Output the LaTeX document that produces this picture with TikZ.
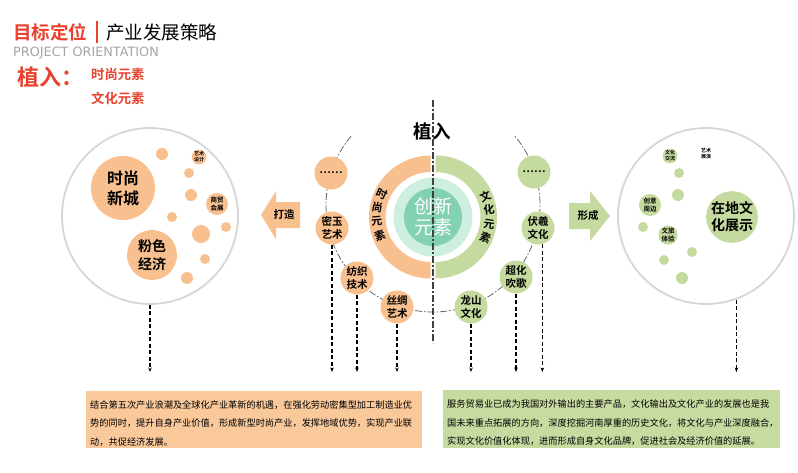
\documentclass[tikz,border=0pt]{standalone}
\usepackage{fontspec}
\setmainfont{Noto Sans CJK SC}[BoldFont={Noto Sans CJK SC Bold}]
\newfontfamily\projfont{DejaVu Sans}
\usetikzlibrary{arrows.meta}

\definecolor{hongse}{RGB}{232,65,45}
\definecolor{peach}{RGB}{248,191,143}
\definecolor{sage}{RGB}{197,218,158}
\definecolor{mintlt}{RGB}{206,238,224}
\definecolor{mint}{RGB}{130,209,179}
\definecolor{rimgray}{RGB}{214,214,214}
\definecolor{zigray}{RGB}{165,165,165}
\definecolor{lboxc}{RGB}{249,200,155}
\definecolor{rboxc}{RGB}{199,219,161}

\begin{document}
\begin{tikzpicture}[x=1pt, y=-1pt,
    bigbub/.style={circle, draw=rimgray, line width=1.8pt, inner sep=0pt, minimum size=176pt},
    pdot/.style={circle, fill=peach, inner sep=0pt, minimum size=#1},
    pdot/.default=10pt,
    gdot/.style={circle, fill=sage, inner sep=0pt, minimum size=#1},
    gdot/.default=10pt,
    pbub/.style={circle, fill=peach, inner sep=0pt, minimum size=33pt, align=center,
        font=\bfseries\fontsize{10.5}{12.5}\selectfont},
    gbub/.style={pbub, fill=sage},
    tinytxt/.style={align=center, font=\bfseries\fontsize{5}{6}\selectfont},
    smalltxt/.style={align=center, font=\bfseries\fontsize{6.5}{8}\selectfont},
    ringch/.style={inner sep=0pt, font=\bfseries\fontsize{11}{11}\selectfont},
    arrtxt/.style={inner sep=0pt, font=\bfseries\fontsize{10.5}{11}\selectfont},
    boxtxt/.style={anchor=north west, inner sep=0pt, text width=328pt, align=left,
        font=\fontsize{9.2}{18.5}\selectfont},
    dasharr/.style={dash pattern=on 4pt off 2.5pt, line width=1.1pt,
        -{Stealth[length=4.5pt,width=3.5pt]}},
    dotdash/.style={draw=black!60, line width=0.8pt, dash pattern=on 7pt off 2pt on 1.5pt off 2pt},
]
\useasboundingbox (0,0) rectangle (798,472);

%% title
\node[anchor=west, inner sep=0pt, text=hongse, font=\bfseries\fontsize{18.5}{20}\selectfont] (mbdw) at (13,32) {目标定位};
\draw[hongse, line width=2.5pt] (97,21) -- (97,43);
\node[anchor=west, inner sep=0pt, font=\fontsize{18.5}{20}\selectfont] (cyfz) at (106,32) {产业发展策略};
\node[anchor=west, inner sep=0pt, text=zigray, font=\projfont\fontsize{12.8}{13}\selectfont] (proj) at (13,53) {PROJECT ORIENTATION};
\node[anchor=west, inner sep=0pt, text=hongse, font=\bfseries\fontsize{22}{22}\selectfont] (zr) at (17,77) {植入：};
\node[anchor=west, inner sep=0pt, text=hongse, font=\bfseries\fontsize{13.3}{14}\selectfont] (ssys) at (91,74) {时尚元素};
\node[anchor=west, inner sep=0pt, text=hongse, font=\bfseries\fontsize{13.3}{14}\selectfont] (whys) at (91,98) {文化元素};

%% left bubble
%%   kw   (name)   (x, y)   {text}
\node[bigbub] (bigL) at (150,216) {};
\node[pdot=64pt, align=center, font=\bfseries\fontsize{16}{20}\selectfont] (ssxc) at (123,188) {时尚\\新城};
\node[pdot=50pt, align=center, font=\bfseries\fontsize{14}{18}\selectfont] (fsjj) at (152,255) {粉色\\经济};
\node[pdot=12pt] (lp1) at (162,154) {};
\node[pdot=14pt, tinytxt] (yssj) at (199,157) {艺术\\设计};
\node[pdot] (lp2) at (189,173) {};
\node[pdot=12pt] (lp3) at (191,195) {};
\node[pdot=22pt, smalltxt] (smhz) at (217,204) {商贸\\会展};
\node[pdot] (lp4) at (172,217) {};
\node[pdot=18pt] (lp5) at (201,234) {};
\node[pdot] (lp6) at (226,227) {};
\node[pdot] (lp7) at (205,259) {};
\node[pdot=12pt] (lp8) at (187,278) {};

%% right bubble
\node[bigbub] (bigR) at (706,216) {};
\node[gdot=47pt, align=center, font=\bfseries\fontsize{14}{17}\selectfont] (zdwh) at (732,217) {在地文\\化展示};
\node[gdot=13pt, tinytxt] (whjl) at (670,156) {文化\\交流};
\node[tinytxt, inner sep=0pt] (yszy) at (706,154) {艺术\\展演};
\node[gdot] (rp1) at (679,173) {};
\node[gdot=12pt] (rp2) at (678,195) {};
\node[gdot=22pt, smalltxt] (cyzb) at (650,205) {创意\\周边};
\node[gdot] (rp3) at (643,227) {};
\node[gdot=18pt, smalltxt] (wlty) at (668,235) {文旅\\体验};
\node[gdot] (rp4) at (692,252) {};
\node[gdot] (rp5) at (664,260) {};
\node[gdot=12pt] (rp6) at (682,278) {};

%% arrows
\fill[peach] (300,202) -- (276,202) -- (276,191) -- (261,215) -- (276,239) -- (276,228) -- (300,228) -- cycle;
\node[arrtxt] (dz) at (284,215) {打造};
\fill[sage] (569,203) -- (590,203) -- (590,191) -- (610,216) -- (590,241) -- (590,229) -- (569,229) -- cycle;
\node[arrtxt] (xc) at (588,216) {形成};

%% middle
\draw[dotdash] ([shift={(-140:107)}]433,205) arc[start angle=-140, end angle=-400, radius=107];
\fill[peach] (430.5,155.5) arc[start angle=-90, end angle=-270, radius=61.5]
    -- (430.5,262) arc[start angle=90, end angle=270, radius=45] -- cycle;
\fill[sage] (435.5,155.5) arc[start angle=-90, end angle=90, radius=61.5]
    -- (435.5,262) arc[start angle=90, end angle=-90, radius=45] -- cycle;
\foreach \ch/\pos/\rot [count=\k] in {时/-155/-25, 尚/-170/-10, 元/-185/5, 素/-200/20}
    \node[ringch, rotate=\rot] (sy\k) at ([shift={(\pos:54)}]430.5,217) {\ch};
\foreach \ch/\pos/\rot [count=\k] in {文/-22.5/22.5, 化/-7.5/7.5, 元/7.5/-7.5, 素/22.5/-22.5}
    \node[ringch, rotate=\rot] (wh\k) at ([shift={(\pos:54)}]435.5,217) {\ch};
\node[circle, fill=mintlt, inner sep=0pt, minimum size=79pt] (cxo) at (433,217) {};
\node[circle, fill=mint, inner sep=0pt, minimum size=58pt, text=white, align=center,
    font=\fontsize{19}{21}\selectfont] (cxys) at (433,217) {创新\\元素};
\node[inner sep=0pt, font=\bfseries\fontsize{18.5}{20}\selectfont] (zrt) at (432,131) {植入};

\node[pbub] (pdd) at (331,173) {……};
\node[pbub] (myys) at (332,228) {密玉\\艺术};
\node[pbub] (fzjs) at (357,278) {纺织\\技术};
\node[pbub] (scys) at (397,307) {丝绸\\艺术};
\node[gbub] (lswh) at (471,307) {龙山\\文化};
\node[gbub] (chcg) at (516,277) {超化\\吹歌};
\node[gbub] (fxwh) at (538,228) {伏羲\\文化};
\node[gbub] (gdd) at (534,172) {……};

\coordinate (ctop) at (433,100);
\coordinate (cbot) at (433,343);
\draw[black!75, line width=1.3pt, dash pattern=on 7pt off 2pt on 2pt off 2pt] (ctop) -- (cbot);

%% dashed arrows
\coordinate (arrend) at (0,372);
\draw[dasharr] (bigL.south) -- (bigL.south |- arrend);
\draw[dasharr] (myys.south) -- (myys.south |- arrend);
\draw[dasharr] (fzjs.south) -- (fzjs.south |- arrend);
\draw[dasharr] (scys.south) -- (scys.south |- arrend);
\draw[dasharr] (lswh.south) -- (lswh.south |- arrend);
\draw[dasharr] (chcg.south) -- (chcg.south |- arrend);
\draw[dasharr] (fxwh.-75) -- (fxwh.-75 |- arrend);
\draw[dasharr] (bigR.-70) -- (bigR.-70 |- arrend);

%% text boxes
\fill[lboxc] (86,391) rectangle (422,448);
\node[boxtxt] (ltxt) at (90,400) {结合第五次产业浪潮及全球化产业革新的机遇，在强化劳动密集型加工制造业优\\
势的同时，提升自身产业价值，形成新型时尚产业，发挥地域优势，实现产业联\\
动，共促经济发展。};
\fill[rboxc] (443,390) rectangle (780,448);
\node[boxtxt] (rtxt) at (447,400) {服务贸易业已成为我国对外输出的主要产品，文化输出及文化产业的发展也是我\\
国未来重点拓展的方向，深度挖掘河南厚重的历史文化，将文化与产业深度融合，\\
实现文化价值化体现，进而形成自身文化品牌，促进社会及经济价值的延展。};
\end{tikzpicture}
\end{document}
